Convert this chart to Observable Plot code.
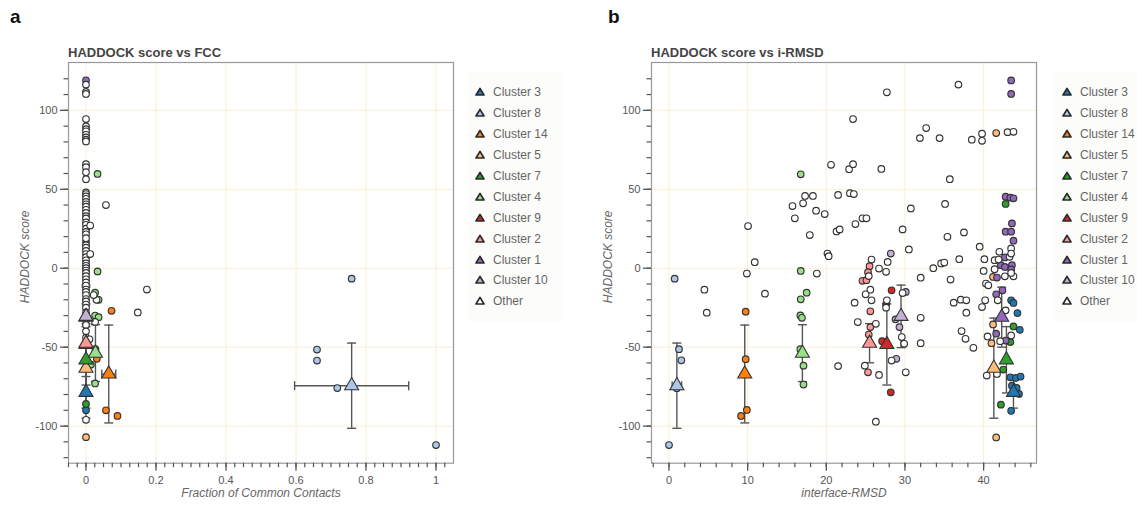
<!DOCTYPE html>
<html>
<head>
<meta charset="utf-8">
<script src="https://cdn.jsdelivr.net/npm/d3@7"></script>
<script src="https://cdn.jsdelivr.net/npm/@observablehq/plot@0.6"></script>
<style>
  body { margin: 0; background: #fff; font-family: "Liberation Sans", Arial, sans-serif; }
  #root { position: relative; width: 1137px; height: 507px; overflow: hidden; background: #fff; }
  .plabel { position: absolute; font-weight: bold; font-size: 19px; line-height: 19px; color: #111; }
  .title { position: absolute; font-weight: bold; font-size: 13px; line-height: 13px; color: #444; white-space: nowrap; }
  .plot { position: absolute; top: 0; }
  .legend { position: absolute; background: #fcfcfa; }
  .lrow { position: absolute; height: 14px; display: flex; align-items: center; font-size: 12px; color: #666; white-space: nowrap; }
  .lrow svg { margin-right: 7px; }
</style>
</head>
<body>
<div id="root"></div>
<script>
// ---------- categories & palette ----------
const clusters = ["Cluster 3","Cluster 8","Cluster 14","Cluster 5","Cluster 7","Cluster 4","Cluster 9","Cluster 2","Cluster 1","Cluster 10","Other"];
const colors = ["#1f77b4","#aec7e8","#ff7f0e","#ffbb78","#2ca02c","#98df8a","#d62728","#ff9896","#9467bd","#c5b0d5","#ffffff"];

// ---------- cluster summaries (triangles + error bars) ----------
const clusterNames = ["Cluster 3","Cluster 8","Cluster 14","Cluster 5","Cluster 7","Cluster 4","Cluster 9","Cluster 2","Cluster 1","Cluster 10"];
const scoreMean = [-78.6,-74.4,-67,-63.3,-58,-53.8,-48.3,-47.5,-31,-30.5];
const scoreSd   = [10,27,31,31.7,21,18,25.7,12.4,19,19.8];
const fccMean   = [0,0.759,0.065,0,0,0.027,0,0,0,0];
const fccSd     = [0,0.163,0.02,0,0,0,0,0,0,0];
const rmsdMean  = [43.8,1.0,9.63,41.3,42.9,16.96,27.7,25.5,42.3,29.5];
const rmsdSd    = [0,0.6,0,0,0,0,0,0,0,0];

// ---------- panel a: FCC vs HADDOCK score ----------
const fccPoints = [
  [0.759,-6.6,"Cluster 8"],[0.66,-51.5,"Cluster 8"],[0.66,-58.5,"Cluster 8"],[0.718,-75.9,"Cluster 8"],[1.0,-112,"Cluster 8"],
  [0.073,-27,"Cluster 14"],[0.031,-57.4,"Cluster 14"],[0.057,-90,"Cluster 14"],[0.09,-93.6,"Cluster 14"],
  [0.033,59.7,"Cluster 4"],[0.033,-2,"Cluster 4"],[0.026,-15.5,"Cluster 4"],[0.036,-20,"Cluster 4"],[0.026,-30,"Cluster 4"],
  [0.036,-31,"Cluster 4"],[0.027,-51.3,"Cluster 4"],[0.014,-61,"Cluster 4"],[0.026,-73,"Cluster 4"],
  [0,-90,"Cluster 3"],[0,-107,"Cluster 5"],[0,-86,"Cluster 7"],[0,119,"Cluster 1"],[0,16.7,"Cluster 1"],
  [0,116.3,"Other"],[0,111.7,"Other"],[0,110.4,"Other"],[0,94.5,"Other"],[0,89.8,"Other"],[0,88.1,"Other"],[0,86.7,"Other"],
  [0,84.5,"Other"],[0,82.8,"Other"],[0,81.4,"Other"],[0,80.3,"Other"],[0,65.9,"Other"],[0,64,"Other"],[0,60.8,"Other"],
  [0,56.4,"Other"],[0,48,"Other"],[0,47,"Other"],[0,45.5,"Other"],[0,44,"Other"],[0,42,"Other"],[0,40.5,"Other"],[0,39,"Other"],
  [0,37,"Other"],[0,35,"Other"],[0,33,"Other"],[0,31.5,"Other"],[0,29,"Other"],[0,27.5,"Other"],[0,25,"Other"],[0,23,"Other"],
  [0,21.5,"Other"],[0,19,"Other"],[0,14.5,"Other"],[0,13,"Other"],[0,11,"Other"],[0,9,"Other"],[0,7,"Other"],[0,5,"Other"],
  [0,3,"Other"],[0,1.5,"Other"],[0,0,"Other"],[0,-1.5,"Other"],[0,-3,"Other"],[0,-5,"Other"],[0,-7,"Other"],[0,-9,"Other"],
  [0,-11,"Other"],[0,-13.5,"Other"],[0,-15,"Other"],[0,-17,"Other"],[0,-19.5,"Other"],[0,-21,"Other"],[0,-23,"Other"],
  [0,-25,"Other"],[0,-28,"Other"],[0,-33,"Other"],[0,-36,"Other"],[0,-40,"Other"],[0,-44,"Other"],[0,-96,"Other"],
  [0.012,27,"Other"],[0.012,9,"Other"],[0.057,40,"Other"],[0.03,-20,"Other"],[0.026,-34,"Other"],[0.148,-28,"Other"],
  [0.174,-13.5,"Other"],[0.01,-45,"Other"],[0.022,-17,"Other"]
];

// ---------- panel b: i-RMSD vs HADDOCK score ----------
const rmsdPoints = [
  [43.5,-20.3,"Cluster 3"],[43.8,-22,"Cluster 3"],[44.3,-28.4,"Cluster 3"],[44.6,-39,"Cluster 3"],[43.4,-69.1,"Cluster 3"],
  [44.1,-69.5,"Cluster 3"],[44.7,-68.6,"Cluster 3"],[43.6,-74.4,"Cluster 3"],[44.2,-75.8,"Cluster 3"],[44.5,-79.6,"Cluster 3"],[43.5,-90.3,"Cluster 3"],
  [0,-112,"Cluster 8"],[0.72,-6.6,"Cluster 8"],[1.27,-51.3,"Cluster 8"],[1.57,-58.3,"Cluster 8"],[1.0,-76,"Cluster 8"],
  [9.75,-27.5,"Cluster 14"],[9.75,-57.6,"Cluster 14"],[9.9,-89.8,"Cluster 14"],[9.16,-93.6,"Cluster 14"],
  [41.6,85.6,"Cluster 5"],[41.2,-5.5,"Cluster 5"],[41.2,-35.6,"Cluster 5"],[41.0,-47.5,"Cluster 5"],[41.6,-107.2,"Cluster 5"],
  [42.8,40.7,"Cluster 7"],[43.8,-36.9,"Cluster 7"],[43.4,-46.8,"Cluster 7"],[42.5,-64.2,"Cluster 7"],[42.2,-86.4,"Cluster 7"],
  [16.75,59.5,"Cluster 4"],[16.75,-1.7,"Cluster 4"],[16.75,-19.7,"Cluster 4"],[17.5,-15.5,"Cluster 4"],[16.7,-29.9,"Cluster 4"],
  [16.9,-31.4,"Cluster 4"],[16.7,-51.3,"Cluster 4"],[17.1,-61.7,"Cluster 4"],[17.1,-73.7,"Cluster 4"],
  [28.3,-14,"Cluster 9"],[27.6,-22.9,"Cluster 9"],[27.1,-46.2,"Cluster 9"],[28.2,-78.6,"Cluster 9"],
  [25.5,1.3,"Cluster 2"],[25.3,-2.5,"Cluster 2"],[24.6,-8,"Cluster 2"],[25.1,-7.6,"Cluster 2"],[25.6,-27.3,"Cluster 2"],
  [25.6,-37.3,"Cluster 2"],[25.4,-42,"Cluster 2"],[25.3,-65.9,"Cluster 2"],
  [43.5,118.9,"Cluster 1"],[43.5,110.4,"Cluster 1"],[42.8,45.3,"Cluster 1"],[43.4,44.7,"Cluster 1"],[43.8,44.3,"Cluster 1"],
  [43.6,28.4,"Cluster 1"],[42.8,23.1,"Cluster 1"],[43.5,23.1,"Cluster 1"],[43.8,17.4,"Cluster 1"],[42.7,6.8,"Cluster 1"],
  [42.2,1.9,"Cluster 1"],[42.7,0.8,"Cluster 1"],[43.6,1.9,"Cluster 1"],[43.5,-0.8,"Cluster 1"],[41.7,-5.9,"Cluster 1"],
  [41.6,-16.5,"Cluster 1"],[42.4,-14,"Cluster 1"],[42.8,-45.8,"Cluster 1"],[41.6,-41.5,"Cluster 1"],
  [28.2,9.3,"Cluster 10"],[30.1,-15,"Cluster 10"],[29.3,-37.3,"Cluster 10"],[28.9,-57.4,"Cluster 10"],[28.8,-32.4,"Cluster 10"],
  [4.5,-13.6,"Other"],[4.8,-28.2,"Other"],[10.05,26.7,"Other"],[9.9,-3.4,"Other"],[10.9,3.8,"Other"],[12.2,-16.1,"Other"],
  [15.7,39.4,"Other"],[16.0,31.6,"Other"],[17.05,41.1,"Other"],[17.3,45.8,"Other"],[18.3,45.8,"Other"],[18.7,36.4,"Other"],
  [19.8,34.3,"Other"],[17.9,21,"Other"],[20.15,9.3,"Other"],[20.3,7.6,"Other"],[18.8,-3.4,"Other"],[20.6,65.5,"Other"],
  [21.5,46.4,"Other"],[21.3,23.3,"Other"],[21.7,24.6,"Other"],[21.5,-62,"Other"],[22.9,62.7,"Other"],[23.4,94.5,"Other"],
  [23.4,65.9,"Other"],[23.0,47.5,"Other"],[23.5,47,"Other"],[23.7,28,"Other"],[24.6,31.6,"Other"],[25.1,31.6,"Other"],
  [23.6,-21.8,"Other"],[24.0,-34.1,"Other"],[26.3,-97.2,"Other"],[26.7,-67.6,"Other"],[27.7,111.4,"Other"],[27.0,62.9,"Other"],
  [29.7,24.6,"Other"],[30.5,11.9,"Other"],[25.75,5.5,"Other"],[27.8,4.0,"Other"],[26.7,-0.2,"Other"],[27.6,-2.3,"Other"],
  [25.4,-5,"Other"],[32.0,-6,"Other"],[33.6,0,"Other"],[34.6,3,"Other"],[35.0,3.6,"Other"],[25.6,-13.6,"Other"],
  [29.7,-15.7,"Other"],[25.0,-16.5,"Other"],[25.75,-20.3,"Other"],[27.7,-20.3,"Other"],[27.6,-25,"Other"],[32.0,-31.4,"Other"],
  [26.3,-35.2,"Other"],[29.6,-43.6,"Other"],[29.9,-47.9,"Other"],[32.0,-47.5,"Other"],[28.3,-58.5,"Other"],[24.9,-61.7,"Other"],
  [30.1,-65.9,"Other"],[36.8,116.3,"Other"],[31.9,82.4,"Other"],[32.7,88.8,"Other"],[34.4,82.4,"Other"],[38.5,81.4,"Other"],
  [39.8,85.2,"Other"],[39.8,80.7,"Other"],[43.05,86.2,"Other"],[43.8,86.4,"Other"],[35.7,56.4,"Other"],[35.1,40.7,"Other"],
  [30.75,37.9,"Other"],[35.4,19.9,"Other"],[37.5,22.7,"Other"],[39.5,13.6,"Other"],[36.9,5.7,"Other"],[35.8,-7.2,"Other"],
  [40.1,5.7,"Other"],[40.0,-1.7,"Other"],[40.3,-9.7,"Other"],[40.6,-10.8,"Other"],[36.2,-21.8,"Other"],[37.1,-19.9,"Other"],
  [37.8,-20.3,"Other"],[37.8,-28.2,"Other"],[37.2,-39.8,"Other"],[37.7,-44.7,"Other"],[38.7,-50.4,"Other"],[39.8,-24.6,"Other"],
  [40.2,-20.3,"Other"],[40.4,-68,"Other"],[42.0,10.4,"Other"],[43.5,12.5,"Other"],[41.4,5.1,"Other"],[41.9,5.5,"Other"],
  [43.3,7.2,"Other"],[43.5,9.3,"Other"],[41.4,-0.6,"Other"],[42.7,-5.1,"Other"],[43.8,-5.1,"Other"],[43.5,-3,"Other"],
  [41.8,-20.3,"Other"],[42.8,-26.7,"Other"],[43.5,-42.6,"Other"],[40.5,-43.2,"Other"],[42.1,-46.2,"Other"],[41.7,-67,"Other"]
];

// ---------- axes ----------
const yDomain = [-123.5, 130.3];
const yMajor = [-100,-50,0,50,100];
const yMinor = d3.range(-120, 121, 10);
const fccDomain = [-0.05, 1.05];
const fccMajor = [0,0.2,0.4,0.6,0.8,1];
const fccMinor = d3.range(-2, 42).map(i => i * 0.025);
const rmsdDomain = [-2.225, 46.725];
const rmsdMajor = [0,10,20,30,40];
const rmsdMinor = d3.range(-1, 24).map(i => i * 2);

// ---------- helpers ----------
const hCap = {draw(ctx, size) { const r = Math.sqrt(size / Math.PI); ctx.moveTo(-r, 0); ctx.lineTo(r, 0); }};
const vCap = {draw(ctx, size) { const r = Math.sqrt(size / Math.PI); ctx.moveTo(0, -r); ctx.lineTo(0, r); }};
const order = c => clusters.indexOf(c);

function panel(points, xMean, xSd, xDomain, xMajor, xMinor, xLabel) {
  const pts = points.map(([x, y, c]) => ({x, y, c})).sort((a, b) => order(a.c) - order(b.c));
  const summ = clusterNames.map((c, i) => ({c, m: scoreMean[i], sd: scoreSd[i], x: xMean[i], xs: xSd[i]}));
  const summX = summ.filter(d => d.xs > 0);
  const barColor = "#555";
  const tickColor = "#555";
  return Plot.plot({
    width: 470, height: 507,
    marginLeft: 68, marginRight: 17, marginTop: 62, marginBottom: 44.3,
    style: {fontFamily: "'Liberation Sans', Arial, sans-serif", fontSize: "11px", color: "#666", background: "transparent"},
    x: {domain: xDomain},
    y: {domain: yDomain},
    color: {domain: clusters, range: colors},
    marks: [
      Plot.gridX({ticks: xMajor, stroke: "#f6f0d6", strokeOpacity: 1, strokeWidth: 1}),
      Plot.gridY({ticks: yMajor, stroke: "#f6f0d6", strokeOpacity: 1, strokeWidth: 1}),
      Plot.frame({stroke: "#999", strokeWidth: 1.2}),
      Plot.axisX({ticks: xMinor, tickSize: 4.5, tickFormat: () => "", label: null, color: tickColor, strokeWidth: 1.2}),
      Plot.axisX({ticks: xMajor, tickSize: 8, tickPadding: 5, tickFormat: d => String(d), label: null, color: tickColor, strokeWidth: 1.3}),
      Plot.axisY({ticks: yMinor, tickSize: 4.5, tickFormat: () => "", label: null, color: tickColor, strokeWidth: 1.2}),
      Plot.axisY({ticks: yMajor, tickSize: 8, tickPadding: 3, tickFormat: d => String(d), label: null, color: tickColor, strokeWidth: 1.3}),
      Plot.text([xLabel], {frameAnchor: "bottom", text: d => d, dy: 34, fontStyle: "italic", fontSize: 12, fill: "#666"}),
      Plot.text(["HADDOCK score"], {frameAnchor: "left", text: d => d, dx: -43, dy: -6, rotate: -90, textAnchor: "middle", lineAnchor: "middle", fontStyle: "italic", fontSize: 12, fill: "#666"}),
      // error bars
      Plot.ruleX(summ, {x: "x", y1: d => d.m - d.sd, y2: d => d.m + d.sd, stroke: barColor, strokeWidth: 1.4}),
      Plot.dot(summ, {x: "x", y: d => d.m - d.sd, symbol: hCap, r: 4.5, stroke: barColor, strokeWidth: 1.4, fill: "none"}),
      Plot.dot(summ, {x: "x", y: d => d.m + d.sd, symbol: hCap, r: 4.5, stroke: barColor, strokeWidth: 1.4, fill: "none"}),
      Plot.ruleY(summX, {y: "m", x1: d => d.x - d.xs, x2: d => d.x + d.xs, stroke: barColor, strokeWidth: 1.4}),
      Plot.dot(summX, {x: d => d.x - d.xs, y: "m", symbol: vCap, r: 4.5, stroke: barColor, strokeWidth: 1.4, fill: "none"}),
      Plot.dot(summX, {x: d => d.x + d.xs, y: "m", symbol: vCap, r: 4.5, stroke: barColor, strokeWidth: 1.4, fill: "none"}),
      // points
      Plot.dot(pts, {x: "x", y: "y", fill: "c", r: 3.3, stroke: "#333", strokeWidth: 1.15}),
      // cluster means
      Plot.dot(summ, {x: "x", y: "m", fill: "c", symbol: "triangle", r: 5.2, stroke: "#333", strokeWidth: 1.1})
    ]
  });
}

// ---------- layout ----------
const root = document.getElementById("root");
function addDiv(cls, text, left, top) {
  const d = document.createElement("div");
  d.className = cls; d.textContent = text; d.style.left = left + "px"; d.style.top = top + "px";
  root.appendChild(d); return d;
}
function legend(markerX, top) {
  const box = document.createElement("div");
  box.className = "legend";
  box.style.left = (markerX - 12) + "px"; box.style.top = (top - 20) + "px";
  box.style.width = "94px"; box.style.height = "250px";
  root.appendChild(box);
  clusters.forEach((c, i) => {
    const row = document.createElement("div");
    row.className = "lrow";
    row.style.left = (markerX - 6) + "px";
    row.style.top = (top + i * 20.9 - 7) + "px";
    row.innerHTML = `<svg width="12" height="12" viewBox="-6 -6 12 12"><path d="M0,-3.6L4,3L-4,3Z" fill="${colors[i]}" stroke="#2a2a2a" stroke-width="1.7" stroke-linejoin="round"/></svg>`;
    const t = document.createElement("span"); t.textContent = c; row.appendChild(t);
    root.appendChild(row);
  });
}

const pa = panel(fccPoints, fccMean, fccSd, fccDomain, fccMajor, fccMinor, "Fraction of Common Contacts");
pa.classList.add("plot"); pa.style.left = "0px"; root.appendChild(pa);
const pb = panel(rmsdPoints, rmsdMean, rmsdSd, rmsdDomain, rmsdMajor, rmsdMinor, "interface-RMSD");
pb.classList.add("plot"); pb.style.left = "583px"; root.appendChild(pb);

addDiv("plabel", "a", 10, 7);
addDiv("plabel", "b", 608, 7);
addDiv("title", "HADDOCK score vs FCC", 68, 46);
addDiv("title", "HADDOCK score vs i-RMSD", 651, 46);
legend(480, 92.3);
legend(1067, 92.3);
</script>
</body>
</html>
